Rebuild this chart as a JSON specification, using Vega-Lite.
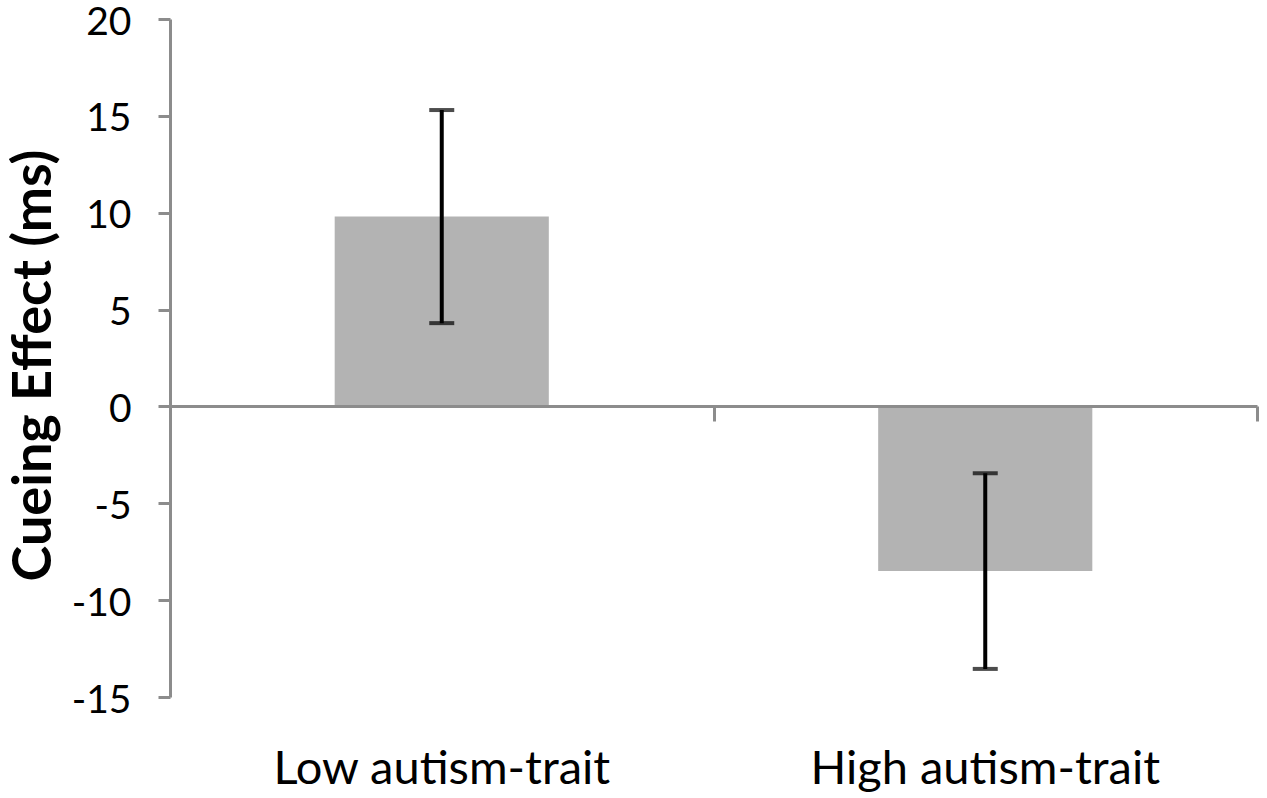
{
  "$schema": "https://vega.github.io/schema/vega-lite/v6.json",
  "autosize": "none",
  "width": 1087,
  "height": 678,
  "padding": {"left": 170, "top": 19, "right": 10, "bottom": 101},
  "background": "white",
  "config": {"view": {"stroke": null}, "font": "Lato"},
  "data": {
    "values": [
      {"group": "Low autism-trait", "effect": 9.8, "lower": 4.3, "upper": 15.3},
      {"group": "High autism-trait", "effect": -8.5, "lower": -13.55, "upper": -3.45}
    ]
  },
  "layer": [
    {
      "mark": {"type": "bar", "color": "#b3b3b3", "width": {"band": 0.394}},
      "encoding": {
        "x": {
          "field": "group",
          "type": "nominal",
          "sort": null,
          "scale": {"paddingInner": 0, "paddingOuter": 0},
          "axis": {
            "orient": "bottom",
            "title": null,
            "domain": false,
            "ticks": false,
            "tickSize": 0,
            "labelAngle": 0,
            "labelPadding": 86,
            "labelBaseline": "alphabetic",
            "labelLimit": 0,
            "labelFontSize": 47,
            "labelColor": "black"
          }
        },
        "y": {
          "field": "effect",
          "type": "quantitative",
          "scale": {"domain": [-15, 20], "nice": false, "zero": false},
          "axis": {
            "values": [-15, -10, -5, 0, 5, 10, 15, 20],
            "labelExpr": "toString(datum.value)",
            "grid": false,
            "domainColor": "#8c8c8c",
            "domainWidth": 3,
            "tickColor": "#8c8c8c",
            "tickWidth": 3,
            "tickSize": 12,
            "labelPadding": 27,
            "labelOffset": 3,
            "labelFontSize": 39,
            "labelColor": "black",
            "title": "Cueing Effect (ms)",
            "titleFontSize": 54,
            "titleFontWeight": "bold",
            "titleColor": "black",
            "titleAngle": -90,
            "titleAlign": "center",
            "titleBaseline": "alphabetic",
            "titleX": -120,
            "titleY": 346
          }
        }
      }
    },
    {
      "mark": {"type": "rule", "color": "black", "strokeWidth": 4},
      "encoding": {
        "x": {
          "field": "group",
          "type": "nominal",
          "sort": null,
          "axis": {
            "orient": "top",
            "offset": -387,
            "title": null,
            "labels": false,
            "domainColor": "#8c8c8c",
            "domainWidth": 3,
            "tickColor": "#8c8c8c",
            "tickWidth": 3,
            "tickSize": -15,
            "tickBand": "extent",
            "zindex": 1
          }
        },
        "y": {"field": "lower", "type": "quantitative", "axis": null},
        "y2": {"field": "upper"}
      }
    },
    {
      "mark": {"type": "tick", "color": "black", "thickness": 4, "size": 25},
      "encoding": {
        "x": {"field": "group", "type": "nominal", "sort": null, "axis": null},
        "y": {"field": "lower", "type": "quantitative", "axis": null}
      }
    },
    {
      "mark": {"type": "tick", "color": "black", "thickness": 4, "size": 25},
      "encoding": {
        "x": {"field": "group", "type": "nominal", "sort": null, "axis": null},
        "y": {"field": "upper", "type": "quantitative", "axis": null}
      }
    }
  ],
  "resolve": {"axis": {"x": "independent", "y": "independent"}}
}
